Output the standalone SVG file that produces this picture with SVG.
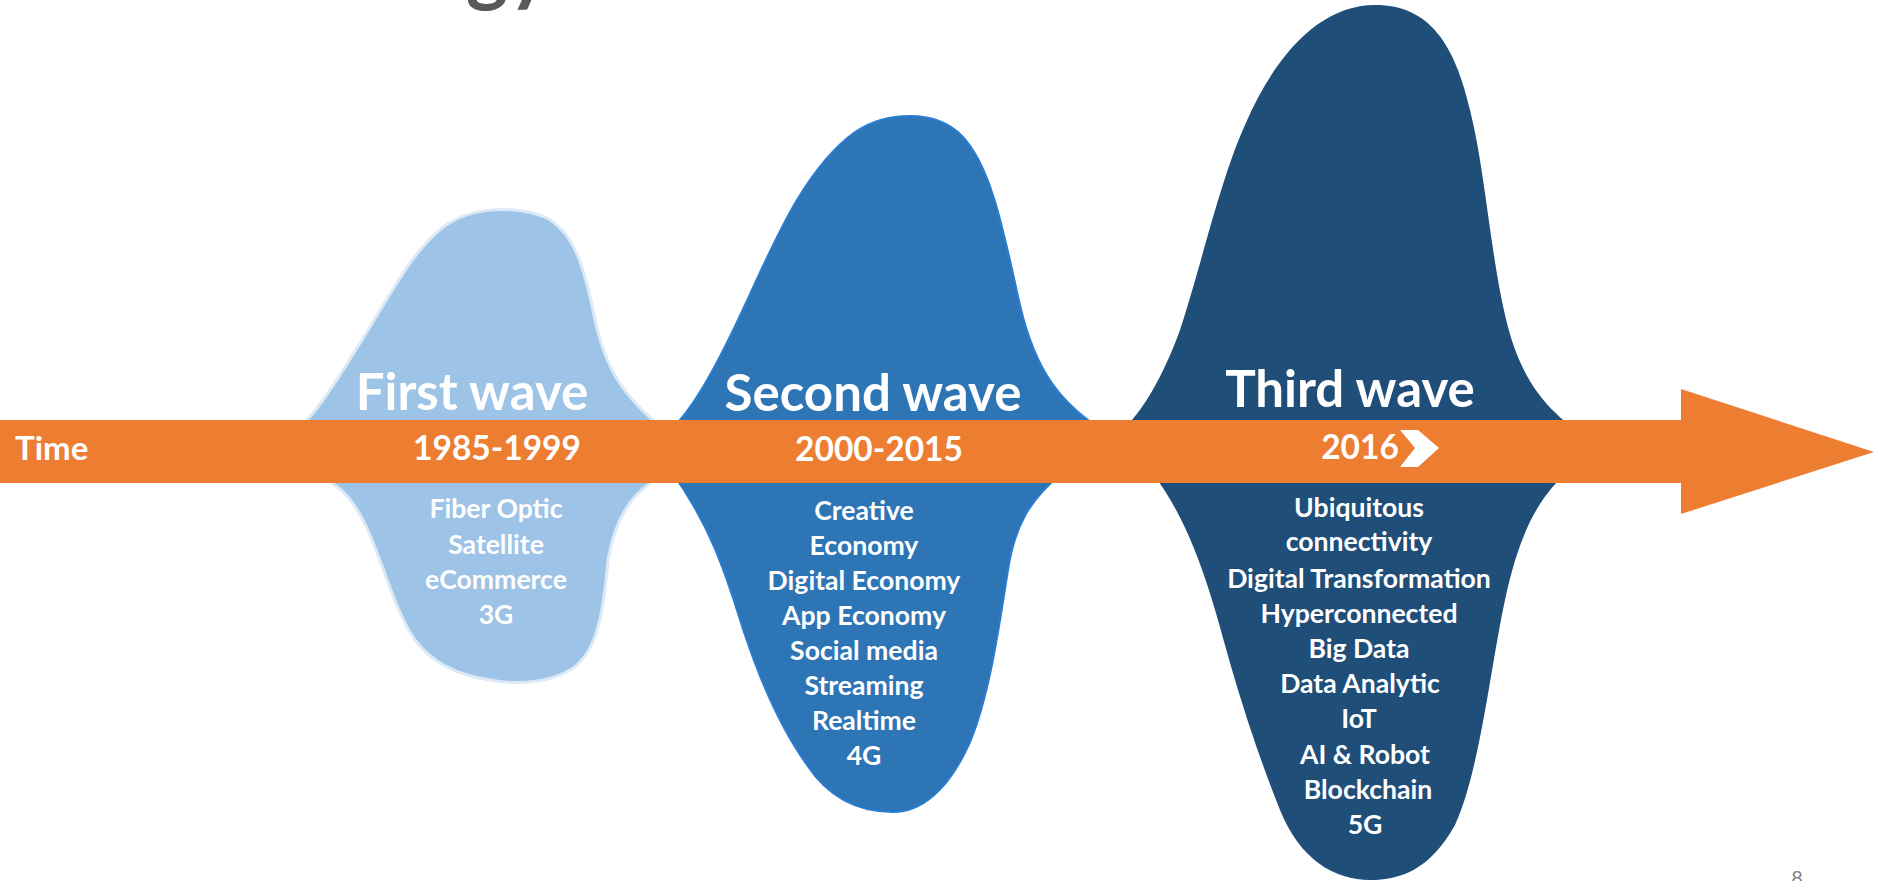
<svg xmlns="http://www.w3.org/2000/svg" width="1878" height="881" viewBox="0 0 1878 881">
<style>
.t{font-family:Lato,"Open Sans","Liberation Sans",sans-serif;font-weight:bold;fill:#ffffff;text-anchor:middle}
.title{font-size:51px}
.year{font-size:33.5px}
.item{font-size:26.6px}
</style>
<rect x="0" y="0" width="1878" height="881" fill="#ffffff"/>
<text x="466" y="-4" font-family="Lato,'Liberation Sans',sans-serif" font-weight="bold" font-size="80" fill="#595959">gy</text>
<g id="wave1">
<path d="M 295,432 C 320,410 340,375 365,335 C 390,295 412,252 442,228 C 468,208 510,204 545,217 C 575,232 585,270 595,320 C 605,365 620,395 665,430 L 655,480 C 630,495 615,520 608,560 C 603,620 595,655 570,670 C 545,685 510,684 490,680 C 455,675 430,660 415,640 C 395,610 385,570 370,535 C 355,500 340,480 300,470 Z" fill="#9DC3E6" stroke="#DCE9F6" stroke-width="3"/>
</g>
<g id="wave2">
<path d="M 665,435 C 690,415 715,370 745,305 C 775,240 805,168 855,132 C 885,112 935,108 962,136 C 993,168 1005,240 1020,305 C 1035,370 1060,405 1110,435 L 1060,475 C 1030,500 1015,525 1008,570 C 1000,620 990,695 970,742 C 948,792 920,812 893,812 C 860,812 830,800 807,765 C 782,730 760,680 745,635 C 730,590 715,530 670,470 Z" fill="#2E75B6" stroke="#2A7DD0" stroke-width="2"/>
</g>
<g id="wave3">
<path d="M 1105,445 C 1135,425 1160,385 1180,330 C 1200,270 1220,180 1245,125 C 1275,55 1320,5 1375,5 C 1430,5 1455,45 1470,110 C 1485,170 1490,250 1505,315 C 1520,380 1545,410 1590,440 L 1570,470 C 1540,495 1520,530 1505,600 C 1490,670 1480,770 1455,825 C 1430,870 1400,880 1370,880 C 1335,880 1300,860 1280,810 C 1260,760 1240,700 1225,645 C 1210,590 1190,520 1150,470 Z" fill="#1F4E79"/>
</g>
<g id="connectors">
<polygon id="time-arrow" points="0,420 1681,420 1681,389 1874,452 1681,514 1681,483 0,483" fill="#ED7D31"/>
</g>
<g id="time-label"><text class="t year" x="15" y="460" style="text-anchor:start;font-size:33px">Time</text></g>
<g id="first-wave-text">
<text class="t title" x="472" y="410">First wave</text>
<text class="t year" x="497" y="460">1985-1999</text>
<text class="t item" x="496" y="518">Fiber Optic</text>
<text class="t item" x="496" y="554">Satellite</text>
<text class="t item" x="496" y="589">eCommerce</text>
<text class="t item" x="496" y="624">3G</text>
</g>
<g id="second-wave-text">
<text class="t title" x="873" y="411">Second wave</text>
<text class="t year" x="879" y="461">2000-2015</text>
<text class="t item" x="864" y="520">Creative</text>
<text class="t item" x="864" y="555">Economy</text>
<text class="t item" x="864" y="590">Digital Economy</text>
<text class="t item" x="864" y="625">App Economy</text>
<text class="t item" x="864" y="660">Social media</text>
<text class="t item" x="864" y="695">Streaming</text>
<text class="t item" x="864" y="730">Realtime</text>
<text class="t item" x="864" y="765">4G</text>
</g>
<g id="third-wave-text">
<text class="t title" x="1350" y="407">Third wave</text>
<text class="t year" x="1360" y="459">2016</text>
<polygon points="1400,430 1418,430 1439,448 1418,467 1400,467 1415,448" fill="#ffffff"/>
<text class="t item" x="1359" y="517">Ubiquitous</text>
<text class="t item" x="1359" y="551">connectivity</text>
<text class="t item" x="1359" y="588">Digital Transformation</text>
<text class="t item" x="1359" y="623">Hyperconnected</text>
<text class="t item" x="1359" y="658">Big Data</text>
<text class="t item" x="1360" y="693">Data Analytic</text>
<text class="t item" x="1359" y="728">IoT</text>
<text class="t item" x="1365" y="764">AI &amp; Robot</text>
<text class="t item" x="1368" y="799">Blockchain</text>
<text class="t item" x="1365" y="834">5G</text>
</g>
<text x="1797" y="885" font-family="Lato,'Liberation Sans',sans-serif" font-size="20" fill="#7F7F7F" text-anchor="middle">8</text>
</svg>
